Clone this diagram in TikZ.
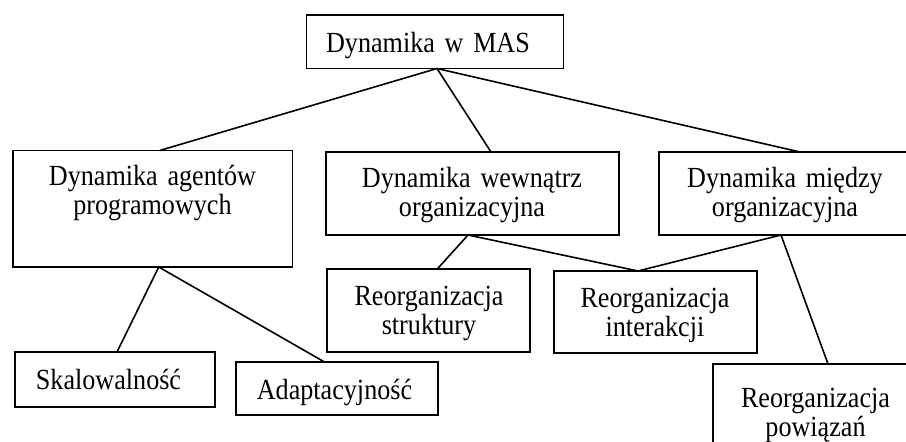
\documentclass[tikz,border=0pt]{standalone}
\usepackage{fontspec}
\setmainfont{Liberation Serif}[FakeStretch=0.895]
\begin{document}
\begin{tikzpicture}[x=1pt,y=-1pt,
  box/.style={draw,line width=1.9pt,rectangle,inner sep=0pt,outer sep=0pt},
  txt/.style={font=\fontsize{29.2}{29}\selectfont,text width=270pt,align=center,anchor=base,inner sep=0pt},
  conn/.style={line width=1.6pt}]
\useasboundingbox (0,0) rectangle (906,442);
\clip (0,0) rectangle (906,442);
% boxes
\node[box,minimum width=257pt,minimum height=53.5pt] (top) at (435,41.75) {};
\node[box,minimum width=279.5pt,minimum height=116.5pt] (ag) at (152.75,208.75) {};
\node[box,minimum width=293pt,minimum height=83pt] (wew) at (472.5,193.5) {};
\node[box,minimum width=253pt,minimum height=83pt] (mie) at (785.5,193.5) {};
\node[box,minimum width=202.7pt,minimum height=82.4pt] (str) at (428.65,310.5) {};
\node[box,minimum width=203pt,minimum height=82pt] (int) at (655.5,312) {};
\node[box,minimum width=205pt,minimum height=96pt] (pow) at (815.5,412) {};
\node[box,minimum width=200pt,minimum height=54.7pt] (ska) at (115,379.35) {};
\node[box,minimum width=202.6pt,minimum height=52.7pt] (ada) at (337,388.65) {};
% texts
\node[txt] (ttop) at (428,52.5) {Dynamika w MAS};
\node[txt] (tag) at (152.5,185.5) {Dynamika agentów\\programowych};
\node[txt] (twew) at (472,187.5) {Dynamika wewnątrz\\organizacyjna};
\node[txt] (tmie) at (785,187.5) {Dynamika między\\organizacyjna};
\node[txt] (tstr) at (429,305.5) {Reorganizacja\\struktury};
\node[txt] (tint) at (655,307) {Reorganizacja\\interakcji};
\node[txt] (tpow) at (815.5,407.5) {Reorganizacja\\powiązań};
\node[txt] (tska) at (108.5,389) {Skalowalność};
\node[txt] (tada) at (334.5,399) {Adaptacyjność};
% connectors
\draw[conn] ([xshift=2pt]top.south) -- ([xshift=7pt]ag.north);
\draw[conn] ([xshift=2pt]top.south) -- ([xshift=18.5pt]wew.north);
\draw[conn] ([xshift=2pt]top.south) -- ([xshift=14.5pt]mie.north);
\draw[conn] ([xshift=6pt]ag.south) -- ([xshift=2pt]ska.north);
\draw[conn] ([xshift=6pt]ag.south) -- ([xshift=-12pt]ada.north);
\draw[conn] ([xshift=-4.5pt]wew.south) -- ([xshift=8.35pt]str.north);
\draw[conn] ([xshift=-4.5pt]wew.south) -- ([xshift=-17.5pt]int.north);
\draw[conn] ([xshift=-4.5pt]mie.south) -- ([xshift=-17.5pt]int.north);
\draw[conn] ([xshift=-4.5pt]mie.south) -- ([xshift=12.5pt]pow.north);
\end{tikzpicture}
\end{document}
